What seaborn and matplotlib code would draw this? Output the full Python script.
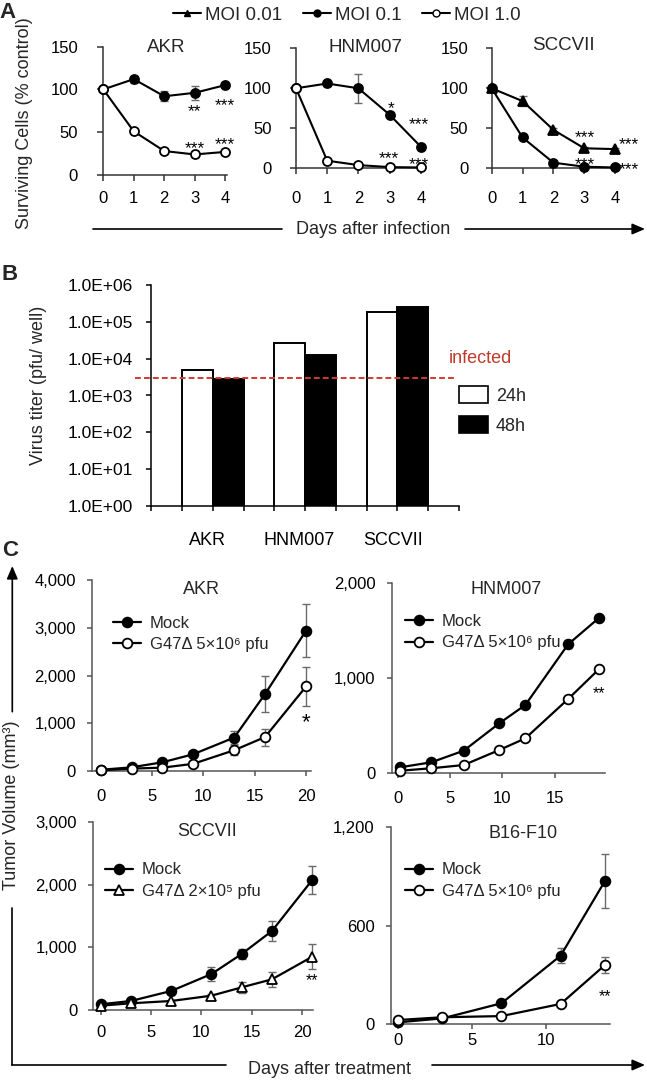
import numpy as np
import pandas as pd
import matplotlib
matplotlib.use("Agg")
import matplotlib.pyplot as plt
import matplotlib.transforms as mtransforms
from matplotlib.lines import Line2D
from matplotlib.patches import Patch, FancyArrowPatch
from matplotlib.ticker import NullLocator, FuncFormatter
import seaborn as sns

# ======================= DATA =======================
# Panel A : surviving cells (% control)
days_a = [0, 1, 2, 3, 4]
akr_moi01 = [100, 112, 92, 96, 105]
akr_moi01_err = [0, 4, 6, 8, 3]
akr_moi1 = [100, 51, 28, 24, 27]
akr_moi1_err = [0, 2, 2, 3, 2]
hnm_moi01 = [100, 106, 100, 67, 27]
hnm_moi01_err = [0, 3, 18, 3, 2]
hnm_moi1 = [100, 9.5, 4, 1.5, 1]
hnm_moi1_err = [0, 1, 1, 0.5, 0.5]
scc_moi001 = [100, 84, 48, 25, 24]
scc_moi001_err = [0, 6, 2, 1, 1]
scc_moi01 = [100, 38.5, 7, 2, 1]
scc_moi01_err = [0, 1, 1, 0.5, 0.5]
a_titles = ["AKR", "HNM007", "SCCVII"]
a_legend = ["MOI 0.01", "MOI 0.1", "MOI 1.0"]
akr_a_stars = [(3, 81, "**"), (4, 88, "***"), (3, 38, "***"), (4, 42, "***")]
hnm_a_stars = [(3.04, 82, "*"), (3.95, 62, "***"), (2.96, 19, "***"), (3.95, 12, "***")]
scc_a_stars = [(3.02, 46, "***"), (4.43, 37, "***"), (3.02, 12, "***"), (4.43, 5, "***")]

# Panel B : virus titer
cats_b = ["AKR", "HNM007", "SCCVII"]
titer_24h = [5000, 26000, 182000]
titer_48h = [2800, 12600, 253000]
infected_level = 2950
b_ticks = [1e0, 1e1, 1e2, 1e3, 1e4, 1e5, 1e6]
b_ticklabels = ["1.0E+00", "1.0E+01", "1.0E+02", "1.0E+03", "1.0E+04", "1.0E+05", "1.0E+06"]

# Panel C : tumor volume (mm3)
akr_days = [0, 3, 6, 9, 13, 16, 20]
akr_mock = [25, 77, 182, 350, 700, 1610, 2940]
akr_mock_err = [10, 15, 25, 40, 130, 377, 560]
akr_g47 = [15, 50, 70, 150, 435, 710, 1770]
akr_g47_err = [5, 10, 15, 30, 100, 180, 400]

hnm_days = [0.2, 3.2, 6.3, 9.7, 12.2, 16.3, 19.3]
hnm_mock = [63, 116, 238, 526, 719, 1358, 1640]
hnm_mock_err = [5, 10, 15, 20, 25, 40, 30]
hnm_g47 = [27, 53, 87, 245, 368, 782, 1101]
hnm_g47_err = [5, 8, 10, 15, 20, 25, 30]

scc_days = [0, 3, 7, 11, 14, 17, 21]
scc_mock = [91, 144, 304, 575, 895, 1262, 2077]
scc_mock_err = [20, 20, 30, 110, 80, 160, 230]
scc_g47 = [69, 107, 144, 229, 362, 490, 851]
scc_g47_err = [15, 15, 20, 30, 90, 120, 200]

b16_days = [0, 3, 7, 11, 14]
b16_mock = [12, 36, 128, 418, 873]
b16_mock_err = [5, 8, 12, 46, 162]
b16_g47 = [26, 43, 50, 124, 361]
b16_g47_err = [5, 8, 8, 12, 47]

c_titles = ["AKR", "HNM007", "SCCVII", "B16-F10"]
c_mock_label = "Mock"
c_g47_labels = ["G47Δ 5×10⁶ pfu", "G47Δ 5×10⁶ pfu", "G47Δ 2×10⁵ pfu", "G47Δ 5×10⁶ pfu"]

# ======================= STYLE =======================
sns.set_theme(style="ticks")
plt.rcParams["font.family"] = ["Liberation Sans", "DejaVu Sans"]
plt.rcParams["axes.unicode_minus"] = False

W, H = 647, 1083
fig = plt.figure(figsize=(W / 100, H / 100), dpi=100)
fig.patch.set_facecolor("white")


def px_axes(l, t, r, b):
    return fig.add_axes([l / W, 1 - b / H, (r - l) / W, (b - t) / H])


def ftext(x, y, s, **kw):
    return fig.text(x / W, 1 - y / H, s, **kw)


def fline(x0, y0, x1, y1, arrow=False):
    if arrow:
        fig.add_artist(FancyArrowPatch((x0 / W, 1 - y0 / H), (x1 / W, 1 - y1 / H),
                                       transform=fig.transFigure,
                                       arrowstyle="-|>,head_length=0.7,head_width=0.3",
                                       mutation_scale=11, lw=1.2, color="black",
                                       shrinkA=0, shrinkB=0))
    else:
        fig.add_artist(Line2D([x0 / W, x1 / W], [1 - y0 / H, 1 - y1 / H],
                              transform=fig.transFigure, color="black", lw=1.2))


def style_axes(ax, color, fs, xpad, ypad, tick_len=4.3):
    sns.despine(ax=ax)
    for s in ("left", "bottom"):
        ax.spines[s].set_color(color)
        ax.spines[s].set_linewidth(1.1)
    ax.tick_params(axis="both", which="major", direction="out", length=tick_len,
                   width=1.1, color=color, labelcolor="black", labelsize=fs)
    ax.tick_params(axis="x", pad=xpad)
    ax.tick_params(axis="y", pad=ypad)
    ax.set_xlabel("")
    ax.set_ylabel("")
    ax.set_facecolor("none")


def draw_series(ax, x, y, err, marker, face, ms, lw=1.5, ecolor="#6a6a6a"):
    ax.errorbar(x, y, yerr=err, fmt="none", ecolor=ecolor, elinewidth=1.0,
                capsize=2.8, capthick=1.0, zorder=2, clip_on=False)
    sns.lineplot(x=x, y=y, ax=ax, color="black", linewidth=lw, marker=marker,
                 markersize=ms, markerfacecolor=face, markeredgecolor="black",
                 markeredgewidth=1.3, errorbar=None, legend=False, zorder=3,
                 clip_on=False)


def stars(ax, items, fs):
    for x, y, s in items:
        ax.annotate(s, (x, y), xytext=(0, -0.33 * fs), textcoords="offset points",
                    ha="center", va="center", fontsize=fs, color="black",
                    annotation_clip=False)


# ======================= PANEL A =======================
axA1 = px_axes(103.3, 46.6, 226.7, 175)
axA2 = px_axes(296, 48.3, 423.3, 168.3)
axA3 = px_axes(491.7, 48.3, 616.7, 168.3)

draw_series(axA1, days_a, akr_moi01, akr_moi01_err, "o", "black", 6.5)
draw_series(axA1, days_a, akr_moi1, akr_moi1_err, "o", "white", 6.5)
draw_series(axA2, days_a, hnm_moi01, hnm_moi01_err, "o", "black", 6.5)
draw_series(axA2, days_a, hnm_moi1, hnm_moi1_err, "o", "white", 6.5)
draw_series(axA3, days_a, scc_moi001, scc_moi001_err, "^", "black", 7)
draw_series(axA3, days_a, scc_moi01, scc_moi01_err, "o", "black", 6.5)

for ax, xr, xpad, ypad in ((axA1, 4.05, 7.4, 13.9), (axA2, 4.08, 12.3, 13.2), (axA3, 4.05, 12.3, 12.5)):
    ax.set_xlim(0, xr)
    ax.set_ylim(0, 150)
    ax.set_xticks(days_a)
    ax.set_yticks([0, 50, 100, 150])
    style_axes(ax, "#333333", 12, xpad, ypad)

stars(axA1, akr_a_stars, 12.5)
stars(axA2, hnm_a_stars, 12.5)
stars(axA3, scc_a_stars, 12.5)

for (x, y), t in zip([(166.7, 48), (366, 47), (563, 46)], a_titles):
    ftext(x, y, t, ha="center", va="center", fontsize=13.5)

hA = [Line2D([], [], color="black", lw=1.5, marker="^", ms=5, mfc="black", mec="black"),
      Line2D([], [], color="black", lw=1.5, marker="o", ms=5, mfc="black", mec="black"),
      Line2D([], [], color="black", lw=1.5, marker="o", ms=5, mfc="white", mec="black")]
fig.legend(hA, a_legend, loc="center", bbox_to_anchor=(347 / W, 1 - 15 / H), ncol=3,
           frameon=False, fontsize=13.5, handlelength=1.5, handletextpad=0.2,
           columnspacing=1.1, borderpad=0, borderaxespad=0)

ftext(25, 123, "Surviving Cells (% control)", rotation=90, ha="center", va="center", fontsize=13)
ftext(373, 229, "Days after infection", ha="center", va="center", fontsize=13)
fline(92.6, 229, 282, 229)
fline(465, 229, 645, 229, arrow=True)
ftext(7, 13, "A", ha="center", va="center", fontsize=16, fontweight="bold")

# ======================= PANEL B =======================
axB = px_axes(151.4, 285, 458.8, 506)
df_b = pd.DataFrame({"line": cats_b * 2,
                     "time": ["24h"] * 3 + ["48h"] * 3,
                     "titer": titer_24h + titer_48h})
sns.barplot(data=df_b, x="line", y="titer", hue="time", order=cats_b,
            hue_order=["24h", "48h"], palette=["white", "black"], saturation=1,
            edgecolor="black", linewidth=1.4, width=2 / 3, errorbar=None,
            legend=False, ax=axB)
axB.set_yscale("log")
axB.set_ylim(1, 1e6)
axB.set_xlim(-2 / 3, 8 / 3)
axB.set_yticks(b_ticks, b_ticklabels)
axB.yaxis.set_minor_locator(NullLocator())
axB.xaxis.remove_overlapping_locs = False
axB.set_xticks(np.arange(11) / 3 - 2 / 3, [""] * 11)
axB.set_xticks([-0.06, 0.94, 1.95], cats_b, minor=True)
style_axes(axB, "black", 12.5, 2, 9.6, tick_len=3.8)
axB.tick_params(axis="x", which="minor", length=0, pad=18.6, labelsize=13,
                labelcolor="black")

blend = mtransforms.blended_transform_factory(axB.transAxes, axB.transData)
axB.plot([-0.054, 0.991], [infected_level, infected_level], transform=blend,
         color="#d03a32", lw=1.4, dashes=(3, 1.6), clip_on=False, zorder=5)
ftext(480, 359, "infected", ha="center", va="center", fontsize=13, color="#c0392b")
hB = [Patch(facecolor="white", edgecolor="black", lw=1.2),
      Patch(facecolor="black", edgecolor="black", lw=1.2)]
fig.legend(hB, ["24h", "48h"], loc="upper left",
           bbox_to_anchor=(458.8 / W, 1 - 386 / H), frameon=False, fontsize=13,
           handlelength=1.6, handleheight=1.05, handletextpad=0.45,
           labelspacing=0.65, borderpad=0, borderaxespad=0)
ftext(39, 385, "Virus titer (pfu/ well)", rotation=90, ha="center", va="center", fontsize=13)
ftext(10, 275, "B", ha="center", va="center", fontsize=16, fontweight="bold")

# ======================= PANEL C =======================
axC1 = px_axes(92, 580, 311, 771)
axC2 = px_axes(391.7, 583.3, 605, 773.3)
axC3 = px_axes(93.3, 822.3, 313, 1010)
axC4 = px_axes(390.7, 827.3, 610, 1024.3)

draw_series(axC1, akr_days, akr_mock, akr_mock_err, "o", "black", 7, lw=1.6)
draw_series(axC1, akr_days, akr_g47, akr_g47_err, "o", "white", 7, lw=1.6)
draw_series(axC2, hnm_days, hnm_mock, hnm_mock_err, "o", "black", 7, lw=1.6)
draw_series(axC2, hnm_days, hnm_g47, hnm_g47_err, "o", "white", 7, lw=1.6)
draw_series(axC3, scc_days, scc_mock, scc_mock_err, "o", "black", 7, lw=1.6)
draw_series(axC3, scc_days, scc_g47, scc_g47_err, "^", "white", 7, lw=1.6)
draw_series(axC4, b16_days, b16_mock, b16_mock_err, "o", "black", 7, lw=1.6)
draw_series(axC4, b16_days, b16_g47, b16_g47_err, "o", "white", 7, lw=1.6)

cfmt = FuncFormatter(lambda v, p: f"{v:,.0f}")
c_specs = [
    (axC1, (-0.85, 20.48), (0, 4000), [0, 1000, 2000, 3000, 4000], [0, 5, 10, 15, 20], 9.2),
    (axC2, (-0.6, 19.83), (0, 2000), [0, 1000, 2000], [0, 5, 10, 15], 8.8),
    (axC3, (-0.73, 21.08), (0, 3000), [0, 1000, 2000, 3000], [0, 5, 10, 15, 20], 7.5),
    (axC4, (-0.49, 14.34), (0, 1200), [0, 600, 1200], [0, 5, 10], 2.5),
]
for ax, xl, yl, yt, xt, xpad in c_specs:
    ax.set_xlim(*xl)
    ax.set_ylim(*yl)
    ax.set_yticks(yt)
    ax.set_xticks(xt)
    ax.yaxis.set_major_formatter(cfmt)
    style_axes(ax, "#555555", 12, xpad, 8.0, tick_len=3.6)

stars(axC1, [(20, 1170, "*")], 16)
stars(axC2, [(19.3, 892, "**")], 11.5)
stars(axC3, [(21, 560, "**")], 11.5)
stars(axC4, [(14, 203, "**")], 11.5)

c_title_pos = [(201.7, 589), (506, 589), (206.7, 832), (522.6, 834)]
for (x, y), t in zip(c_title_pos, c_titles):
    ftext(x, y, t, ha="center", va="center", fontsize=13)

c_leg_pos = [(113, 615.5), (405, 614), (105, 862.5), (405, 862.5)]
c_g47_markers = ["o", "o", "^", "o"]
for ax, (lx, ly), glab, gm in zip([axC1, axC2, axC3, axC4], c_leg_pos, c_g47_labels, c_g47_markers):
    hC = [Line2D([], [], color="black", lw=1.6, marker="o", ms=7, mfc="black", mec="black", mew=1.3),
          Line2D([], [], color="black", lw=1.6, marker=gm, ms=7, mfc="white", mec="black", mew=1.3)]
    ax.legend(hC, [c_mock_label, glab], loc="upper left",
              bbox_to_anchor=(lx / W, 1 - ly / H), bbox_transform=fig.transFigure,
              frameon=False, fontsize=12, handlelength=1.7, handletextpad=0.5,
              labelspacing=0.38, borderpad=0, borderaxespad=0)

ftext(12, 805, "Tumor Volume (mm³)", rotation=90, ha="center", va="center", fontsize=13)
fline(12.3, 711.7, 12.3, 566, arrow=True)
fline(12.3, 908, 12.3, 1065)
fline(12.3, 1065, 226, 1065)
fline(432, 1065, 645, 1065, arrow=True)
ftext(330, 1070, "Days after treatment", ha="center", va="center", fontsize=13)
ftext(10, 550, "C", ha="center", va="center", fontsize=16, fontweight="bold")

fig.savefig("out.png", dpi=100, facecolor="white")
